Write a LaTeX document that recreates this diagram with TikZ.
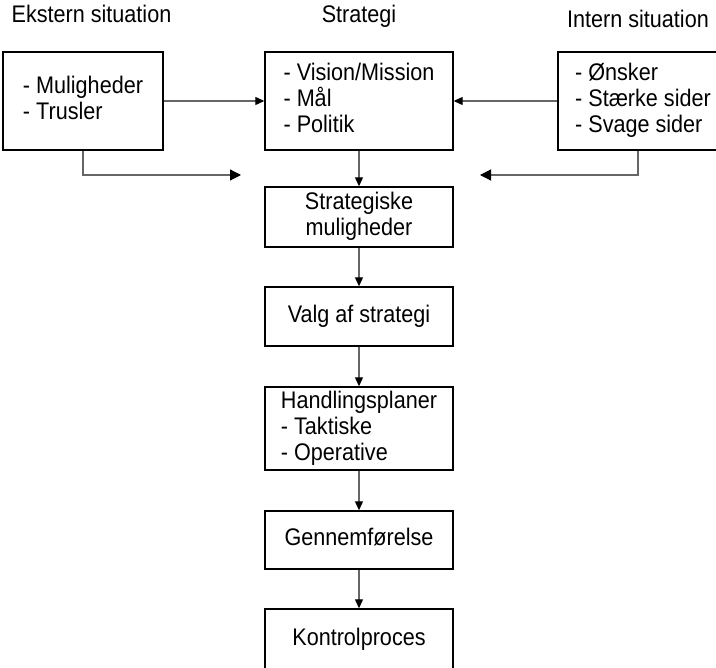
\documentclass[tikz,border=0pt]{standalone}
\usepackage{fontspec}
\setmainfont{Liberation Sans}[FakeStretch=0.9]
\usetikzlibrary{arrows.meta}
\newcommand{\mystrut}{\rule[-6pt]{0pt}{20pt}}
\begin{document}
\begin{tikzpicture}[x=1pt,y=-1pt,
  txt/.style={font=\fontsize{24pt}{26pt}\selectfont},
  box/.style={txt,draw=black,line width=1.4pt,inner sep=0pt,align=left,fill=white},
  lbl/.style={txt,inner sep=0pt,anchor=base},
  conn/.style={draw=black!60,line width=1.2pt,-{Triangle[length=9pt,width=8pt,color=black]}},
  bigconn/.style={draw=black!60,line width=1.2pt,-{Triangle[length=11pt,width=11pt,color=black]}}
]
\useasboundingbox (0,0) rectangle (716,668);

% top labels
\node[lbl] (lext) at (91.5,23) {Ekstern situation};
\node[lbl] (lstr) at (359,23) {Strategi};
\node[lbl] (lint) at (638,28) {Intern situation};

% top row boxes
\node[box,minimum width=160pt,minimum height=98pt] (ext) at (83,101)
  {\mystrut- Muligheder\\\mystrut- Trusler};
\node[box,minimum width=188pt,minimum height=98pt] (strat) at (359,101)
  {\mystrut- Vision/Mission\\\mystrut- Mål\\\mystrut- Politik};
\node[box,minimum width=170pt,minimum height=98pt] (int) at (643,101)
  {\mystrut- Ønsker\\\mystrut- Stærke sider\\\mystrut- Svage sider};

% column
\node[box,align=center,minimum width=188pt,minimum height=60pt] (mul) at (359,217)
  {\mystrut Strategiske\\\mystrut muligheder};
\node[box,align=center,minimum width=188pt,minimum height=59pt] (valg) at (359,316.5)
  {\mystrut Valg af strategi};
\node[box,minimum width=188pt,minimum height=83pt] (handl) at (359,428.5)
  {\mystrut Handlingsplaner\\\mystrut- Taktiske\\\mystrut- Operative};
\node[box,align=center,minimum width=188pt,minimum height=58pt] (genn) at (359,540)
  {\mystrut Gennemførelse};
\node[box,align=center,minimum width=188pt,minimum height=62pt] (kontr) at (359,640)
  {\mystrut Kontrolproces};

% connectors
\coordinate (lt) at (241,175);
\coordinate (rb) at (638,175);
\coordinate (rt) at (480,175);

\draw[conn] (ext.east) -- (strat.west);
\draw[conn] (int.west) -- (strat.east);
\draw[bigconn] (ext.south) |- (lt);
\draw[bigconn] (int.south -| rb) -- (rb) -- (rt);

\draw[conn] (strat.south) -- (mul.north);
\draw[conn] (mul.south) -- (valg.north);
\draw[conn] (valg.south) -- (handl.north);
\draw[conn] (handl.south) -- (genn.north);
\draw[conn] (genn.south) -- (kontr.north);
\end{tikzpicture}
\end{document}
